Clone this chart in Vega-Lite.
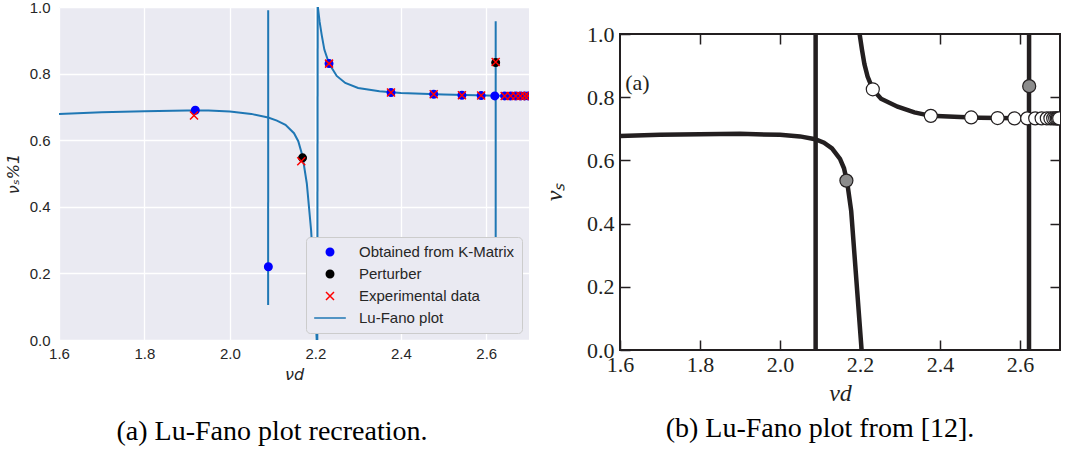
{
  "$schema": "https://vega.github.io/schema/vega-lite/v6.json",
  "background": "white",
  "padding": {"left": 5, "top": 0, "right": 0, "bottom": 0},
  "config": {
    "view": {"stroke": null}
  },
  "spacing": 12,
  "resolve": {
    "scale": {"fill": "independent", "stroke": "independent", "shape": "independent", "size": "independent", "x": "independent", "y": "independent"},
    "legend": {"fill": "independent", "stroke": "independent", "shape": "independent", "size": "independent"}
  },
  "hconcat": [
    {
      "width": 470, "height": 333,
      "view": {"fill": "#EAEAF2", "stroke": null},
      "title": {"text": "(a) Lu-Fano plot recreation.", "orient": "bottom", "font": "Liberation Serif", "fontSize": 28, "fontWeight": "normal", "color": "#000000", "offset": 36, "dx": -22},
      "layer": [
        {
          "data": {"values": [
            {"seg": "A", "nu_d": 1.6, "nu_s": 0.679},
            {"seg": "A", "nu_d": 1.7, "nu_s": 0.684},
            {"seg": "A", "nu_d": 1.8, "nu_s": 0.687},
            {"seg": "A", "nu_d": 1.9, "nu_s": 0.689},
            {"seg": "A", "nu_d": 1.95, "nu_s": 0.689},
            {"seg": "A", "nu_d": 2.0, "nu_s": 0.686},
            {"seg": "A", "nu_d": 2.05, "nu_s": 0.679},
            {"seg": "A", "nu_d": 2.0895, "nu_s": 0.668},
            {"seg": "A", "nu_d": 2.11, "nu_s": 0.659},
            {"seg": "A", "nu_d": 2.13, "nu_s": 0.646},
            {"seg": "A", "nu_d": 2.15, "nu_s": 0.621},
            {"seg": "A", "nu_d": 2.16, "nu_s": 0.597},
            {"seg": "A", "nu_d": 2.17, "nu_s": 0.552},
            {"seg": "A", "nu_d": 2.18, "nu_s": 0.47},
            {"seg": "A", "nu_d": 2.19, "nu_s": 0.33},
            {"seg": "A", "nu_d": 2.197, "nu_s": 0.18},
            {"seg": "A", "nu_d": 2.203, "nu_s": 0.0},
            {"seg": "W", "nu_d": 2.2045, "nu_s": 0.0},
            {"seg": "W", "nu_d": 2.2055, "nu_s": 1.0},
            {"seg": "B", "nu_d": 2.2058, "nu_s": 1.0},
            {"seg": "B", "nu_d": 2.21, "nu_s": 0.955},
            {"seg": "B", "nu_d": 2.215, "nu_s": 0.915},
            {"seg": "B", "nu_d": 2.221, "nu_s": 0.872},
            {"seg": "B", "nu_d": 2.232, "nu_s": 0.83},
            {"seg": "B", "nu_d": 2.25, "nu_s": 0.793},
            {"seg": "B", "nu_d": 2.27, "nu_s": 0.772},
            {"seg": "B", "nu_d": 2.3, "nu_s": 0.757},
            {"seg": "B", "nu_d": 2.35, "nu_s": 0.747},
            {"seg": "B", "nu_d": 2.4, "nu_s": 0.742},
            {"seg": "B", "nu_d": 2.5, "nu_s": 0.737},
            {"seg": "B", "nu_d": 2.6, "nu_s": 0.734},
            {"seg": "B", "nu_d": 2.7, "nu_s": 0.732},
            {"seg": "P1", "nu_d": 2.0895, "nu_s": 0.105},
            {"seg": "P1", "nu_d": 2.0896, "nu_s": 0.99},
            {"seg": "P2", "nu_d": 2.622, "nu_s": 0.072},
            {"seg": "P2", "nu_d": 2.6221, "nu_s": 0.957}
          ]},
          "mark": {"type": "line", "color": "#1f77b4", "strokeWidth": 2, "clip": true},
          "encoding": {
            "x": {"field": "nu_d", "type": "quantitative",
              "scale": {"domain": [1.6, 2.7], "nice": false, "zero": false},
              "axis": {"values": [1.6, 1.8, 2.0, 2.2, 2.4, 2.6], "format": ".1f", "grid": true, "gridColor": "#FFFFFF", "gridWidth": 1.3, "domain": false, "ticks": false, "labelPadding": 6, "labelFlush": false, "labelOverlap": false, "labelFont": "Liberation Sans", "labelFontSize": 15, "labelColor": "#262626", "title": "νd", "titleFont": "DejaVu Sans", "titleFontStyle": "italic", "titleFontWeight": "normal", "titleFontSize": 16, "titleColor": "#262626", "titlePadding": 5}},
            "y": {"field": "nu_s", "type": "quantitative",
              "scale": {"domain": [0, 1], "nice": false, "zero": false},
              "axis": {"values": [0, 0.2, 0.4, 0.6, 0.8, 1.0], "format": ".1f", "grid": true, "gridColor": "#FFFFFF", "gridWidth": 1.3, "domain": false, "ticks": false, "labelPadding": 9, "labelFlush": false, "labelOverlap": false, "labelFont": "Liberation Sans", "labelFontSize": 15, "labelColor": "#262626", "title": "νₛ%1", "titleFont": "DejaVu Sans", "titleFontStyle": "italic", "titleFontWeight": "normal", "titleFontSize": 16, "titleColor": "#262626", "titlePadding": 8}},
            "detail": {"field": "seg", "type": "nominal"}
          }
        },
        {
          "data": {"values": [
            {"series": "Obtained from K-Matrix", "nu_d": 1.919, "nu_s": 0.69},
            {"series": "Obtained from K-Matrix", "nu_d": 2.09, "nu_s": 0.22},
            {"series": "Obtained from K-Matrix", "nu_d": 2.232, "nu_s": 0.83},
            {"series": "Obtained from K-Matrix", "nu_d": 2.377, "nu_s": 0.743},
            {"series": "Obtained from K-Matrix", "nu_d": 2.477, "nu_s": 0.738},
            {"series": "Obtained from K-Matrix", "nu_d": 2.543, "nu_s": 0.735},
            {"series": "Obtained from K-Matrix", "nu_d": 2.588, "nu_s": 0.734},
            {"series": "Obtained from K-Matrix", "nu_d": 2.62, "nu_s": 0.733},
            {"series": "Obtained from K-Matrix", "nu_d": 2.643, "nu_s": 0.733},
            {"series": "Obtained from K-Matrix", "nu_d": 2.657, "nu_s": 0.733},
            {"series": "Obtained from K-Matrix", "nu_d": 2.669, "nu_s": 0.733},
            {"series": "Obtained from K-Matrix", "nu_d": 2.68, "nu_s": 0.733},
            {"series": "Obtained from K-Matrix", "nu_d": 2.69, "nu_s": 0.733},
            {"series": "Obtained from K-Matrix", "nu_d": 2.698, "nu_s": 0.733},
            {"series": "Perturber", "nu_d": 2.17, "nu_s": 0.547},
            {"series": "Perturber", "nu_d": 2.622, "nu_s": 0.833},
            {"series": "Experimental data", "nu_d": 1.916, "nu_s": 0.674},
            {"series": "Experimental data", "nu_d": 2.167, "nu_s": 0.537},
            {"series": "Experimental data", "nu_d": 2.232, "nu_s": 0.83},
            {"series": "Experimental data", "nu_d": 2.377, "nu_s": 0.743},
            {"series": "Experimental data", "nu_d": 2.477, "nu_s": 0.738},
            {"series": "Experimental data", "nu_d": 2.543, "nu_s": 0.735},
            {"series": "Experimental data", "nu_d": 2.588, "nu_s": 0.734},
            {"series": "Experimental data", "nu_d": 2.622, "nu_s": 0.835},
            {"series": "Experimental data", "nu_d": 2.643, "nu_s": 0.733},
            {"series": "Experimental data", "nu_d": 2.657, "nu_s": 0.733},
            {"series": "Experimental data", "nu_d": 2.669, "nu_s": 0.733},
            {"series": "Experimental data", "nu_d": 2.68, "nu_s": 0.733},
            {"series": "Experimental data", "nu_d": 2.69, "nu_s": 0.733},
            {"series": "Experimental data", "nu_d": 2.698, "nu_s": 0.733}
          ]},
          "mark": {"type": "point", "filled": true, "opacity": 1, "strokeWidth": 1.5, "clip": true},
          "encoding": {
            "x": {"field": "nu_d", "type": "quantitative"},
            "y": {"field": "nu_s", "type": "quantitative"},
            "shape": {"field": "series", "type": "nominal",
              "scale": {"domain": ["Obtained from K-Matrix", "Perturber", "Experimental data", "Lu-Fano plot"], "range": ["circle", "circle", "M-1,-1L1,1M-1,1L1,-1", "stroke"]},
              "legend": {"title": null, "orient": "bottom-right", "offset": 7, "padding": 7, "fillColor": "#EAEAF2", "strokeColor": "#CCCCCC", "cornerRadius": 4, "labelFont": "Liberation Sans", "labelFontSize": 15, "labelColor": "#262626", "symbolStrokeWidth": 1.5, "clipHeight": 16, "rowPadding": 6, "labelOffset": 12, "labelLimit": 400}},
            "fill": {"field": "series", "type": "nominal",
              "scale": {"domain": ["Obtained from K-Matrix", "Perturber", "Experimental data", "Lu-Fano plot"], "range": ["#0000ff", "#000000", "#ff0000", "#1f77b4"]},
              "legend": {"title": null, "orient": "bottom-right", "offset": 7, "padding": 7, "fillColor": "#EAEAF2", "strokeColor": "#CCCCCC", "cornerRadius": 4, "labelFont": "Liberation Sans", "labelFontSize": 15, "labelColor": "#262626", "symbolStrokeWidth": 1.5, "clipHeight": 16, "rowPadding": 6, "labelOffset": 12, "labelLimit": 400}},
            "stroke": {"field": "series", "type": "nominal",
              "scale": {"domain": ["Obtained from K-Matrix", "Perturber", "Experimental data", "Lu-Fano plot"], "range": ["#0000ff", "#000000", "#ff0000", "#1f77b4"]},
              "legend": {"title": null, "orient": "bottom-right", "offset": 7, "padding": 7, "fillColor": "#EAEAF2", "strokeColor": "#CCCCCC", "cornerRadius": 4, "labelFont": "Liberation Sans", "labelFontSize": 15, "labelColor": "#262626", "symbolStrokeWidth": 1.5, "clipHeight": 16, "rowPadding": 6, "labelOffset": 12, "labelLimit": 400}},
            "size": {"field": "series", "type": "nominal",
              "scale": {"type": "ordinal", "domain": ["Obtained from K-Matrix", "Perturber", "Experimental data", "Lu-Fano plot"], "range": [56, 56, 64, 1000]},
              "legend": {"title": null, "orient": "bottom-right", "offset": 7, "padding": 7, "fillColor": "#EAEAF2", "strokeColor": "#CCCCCC", "cornerRadius": 4, "labelFont": "Liberation Sans", "labelFontSize": 15, "labelColor": "#262626", "symbolStrokeWidth": 1.5, "clipHeight": 16, "rowPadding": 6, "labelOffset": 12, "labelLimit": 400}}
          }
        }
      ]
    },
    {
      "spacing": 0,
      "vconcat": [
        {
          "width": 440, "height": 15,
          "data": {"values": [{"t": ""}]},
          "mark": {"type": "text"},
          "encoding": {"text": {"field": "t", "type": "nominal"}}
        },
        {
          "width": 440, "height": 316,
          "view": {"stroke": "#231f20", "strokeWidth": 2, "fill": "#FFFFFF"},
          "title": {"text": "(b) Lu-Fano plot from [12].", "orient": "bottom", "font": "Liberation Serif", "fontSize": 28, "fontWeight": "normal", "color": "#000000", "offset": 10, "dx": -20},
          "resolve": {"axis": {"x": "independent", "y": "independent"}},
          "layer": [
            {
              "data": {"values": [
                {"seg": "A", "nu_d": 1.6, "nu_s": 0.677},
                {"seg": "A", "nu_d": 1.7, "nu_s": 0.681},
                {"seg": "A", "nu_d": 1.8, "nu_s": 0.683},
                {"seg": "A", "nu_d": 1.9, "nu_s": 0.684},
                {"seg": "A", "nu_d": 2.0, "nu_s": 0.681},
                {"seg": "A", "nu_d": 2.05, "nu_s": 0.676},
                {"seg": "A", "nu_d": 2.088, "nu_s": 0.667},
                {"seg": "A", "nu_d": 2.11, "nu_s": 0.656},
                {"seg": "A", "nu_d": 2.13, "nu_s": 0.638},
                {"seg": "A", "nu_d": 2.15, "nu_s": 0.605},
                {"seg": "A", "nu_d": 2.16, "nu_s": 0.575},
                {"seg": "A", "nu_d": 2.168, "nu_s": 0.53},
                {"seg": "A", "nu_d": 2.178, "nu_s": 0.44},
                {"seg": "A", "nu_d": 2.204, "nu_s": 0.0},
                {"seg": "B", "nu_d": 2.199, "nu_s": 1.0},
                {"seg": "B", "nu_d": 2.205, "nu_s": 0.95},
                {"seg": "B", "nu_d": 2.211, "nu_s": 0.905},
                {"seg": "B", "nu_d": 2.219, "nu_s": 0.865},
                {"seg": "B", "nu_d": 2.232, "nu_s": 0.825},
                {"seg": "B", "nu_d": 2.2525, "nu_s": 0.795},
                {"seg": "B", "nu_d": 2.294, "nu_s": 0.77},
                {"seg": "B", "nu_d": 2.336, "nu_s": 0.752},
                {"seg": "B", "nu_d": 2.377, "nu_s": 0.741},
                {"seg": "B", "nu_d": 2.45, "nu_s": 0.737},
                {"seg": "B", "nu_d": 2.5, "nu_s": 0.735},
                {"seg": "B", "nu_d": 2.6, "nu_s": 0.733},
                {"seg": "B", "nu_d": 2.7, "nu_s": 0.732},
                {"seg": "P1", "nu_d": 2.089, "nu_s": 0.0},
                {"seg": "P1", "nu_d": 2.0891, "nu_s": 1.0},
                {"seg": "P2", "nu_d": 2.6225, "nu_s": 0.0},
                {"seg": "P2", "nu_d": 2.6226, "nu_s": 1.0}
              ]},
              "mark": {"type": "line", "color": "#231f20", "strokeWidth": 4.5, "clip": true},
              "encoding": {
                "x": {"field": "nu_d", "type": "quantitative",
                  "scale": {"domain": [1.6, 2.7], "nice": false, "zero": false},
                  "axis": {"orient": "bottom", "values": [1.6, 1.8, 2.0, 2.2, 2.4, 2.6], "format": ".1f", "grid": false, "domain": false, "ticks": true, "tickSize": -10, "tickWidth": 1.5, "tickColor": "#231f20", "labelPadding": 14, "labelFlush": false, "labelOverlap": false, "labelFont": "Liberation Serif", "labelFontSize": 22, "labelColor": "#231f20", "title": "νd", "titleFont": "Liberation Serif", "titleFontStyle": "italic", "titleFontWeight": "normal", "titleFontSize": 24, "titleColor": "#231f20", "titlePadding": 6}},
                "y": {"field": "nu_s", "type": "quantitative",
                  "scale": {"domain": [0, 1], "nice": false, "zero": false},
                  "axis": {"orient": "left", "values": [0, 0.2, 0.4, 0.6, 0.8, 1.0], "format": ".1f", "grid": false, "domain": false, "ticks": true, "tickSize": -10, "tickWidth": 1.5, "tickColor": "#231f20", "labelPadding": 16, "labelFlush": false, "labelOverlap": false, "labelFont": "Liberation Serif", "labelFontSize": 22, "labelColor": "#231f20", "title": "νₛ", "titleFont": "Liberation Serif", "titleFontStyle": "italic", "titleFontWeight": "normal", "titleFontSize": 24, "titleColor": "#231f20", "titlePadding": 20}},
                "detail": {"field": "seg", "type": "nominal"}
              }
            },
            {
              "data": {"values": [
                {"kind": "state", "nu_d": 2.232, "nu_s": 0.825},
                {"kind": "state", "nu_d": 2.377, "nu_s": 0.741},
                {"kind": "state", "nu_d": 2.478, "nu_s": 0.736},
                {"kind": "state", "nu_d": 2.544, "nu_s": 0.734},
                {"kind": "state", "nu_d": 2.586, "nu_s": 0.733},
                {"kind": "state", "nu_d": 2.618, "nu_s": 0.733},
                {"kind": "state", "nu_d": 2.638, "nu_s": 0.733},
                {"kind": "state", "nu_d": 2.654, "nu_s": 0.733},
                {"kind": "state", "nu_d": 2.667, "nu_s": 0.733},
                {"kind": "state", "nu_d": 2.676, "nu_s": 0.733},
                {"kind": "state", "nu_d": 2.683, "nu_s": 0.733},
                {"kind": "state", "nu_d": 2.688, "nu_s": 0.733},
                {"kind": "state", "nu_d": 2.692, "nu_s": 0.733},
                {"kind": "state", "nu_d": 2.695, "nu_s": 0.733},
                {"kind": "state", "nu_d": 2.698, "nu_s": 0.733}
              ]},
              "mark": {"type": "point", "filled": true, "opacity": 1, "fill": "#FFFFFF", "stroke": "#231f20", "strokeWidth": 1.2, "size": 170, "clip": true},
              "encoding": {
                "x": {"field": "nu_d", "type": "quantitative",
                  "axis": {"orient": "top", "values": [1.8, 2.0, 2.2, 2.4, 2.6], "labels": false, "title": null, "grid": false, "domain": false, "ticks": true, "tickSize": -10, "tickWidth": 1.5, "tickColor": "#231f20"}},
                "y": {"field": "nu_s", "type": "quantitative",
                  "axis": {"orient": "right", "values": [0.2, 0.4, 0.6, 0.8], "labels": false, "title": null, "grid": false, "domain": false, "ticks": true, "tickSize": -10, "tickWidth": 1.5, "tickColor": "#231f20"}}
              }
            },
            {
              "data": {"values": [
                {"kind": "perturber", "nu_d": 2.166, "nu_s": 0.536},
                {"kind": "perturber", "nu_d": 2.623, "nu_s": 0.835}
              ]},
              "mark": {"type": "point", "filled": true, "opacity": 1, "fill": "#8c8c8c", "stroke": "#231f20", "strokeWidth": 1.2, "size": 170, "clip": true},
              "encoding": {
                "x": {"field": "nu_d", "type": "quantitative", "axis": null},
                "y": {"field": "nu_s", "type": "quantitative", "axis": null}
              }
            },
            {
              "data": {"values": [{"label": "(a)", "nu_d": 1.613, "nu_s": 0.845}]},
              "mark": {"type": "text", "align": "left", "baseline": "middle", "font": "Liberation Serif", "fontSize": 22, "color": "#231f20"},
              "encoding": {
                "x": {"field": "nu_d", "type": "quantitative", "axis": null},
                "y": {"field": "nu_s", "type": "quantitative", "axis": null},
                "text": {"field": "label", "type": "nominal"}
              }
            }
          ]
        }
      ]
    }
  ]
}
